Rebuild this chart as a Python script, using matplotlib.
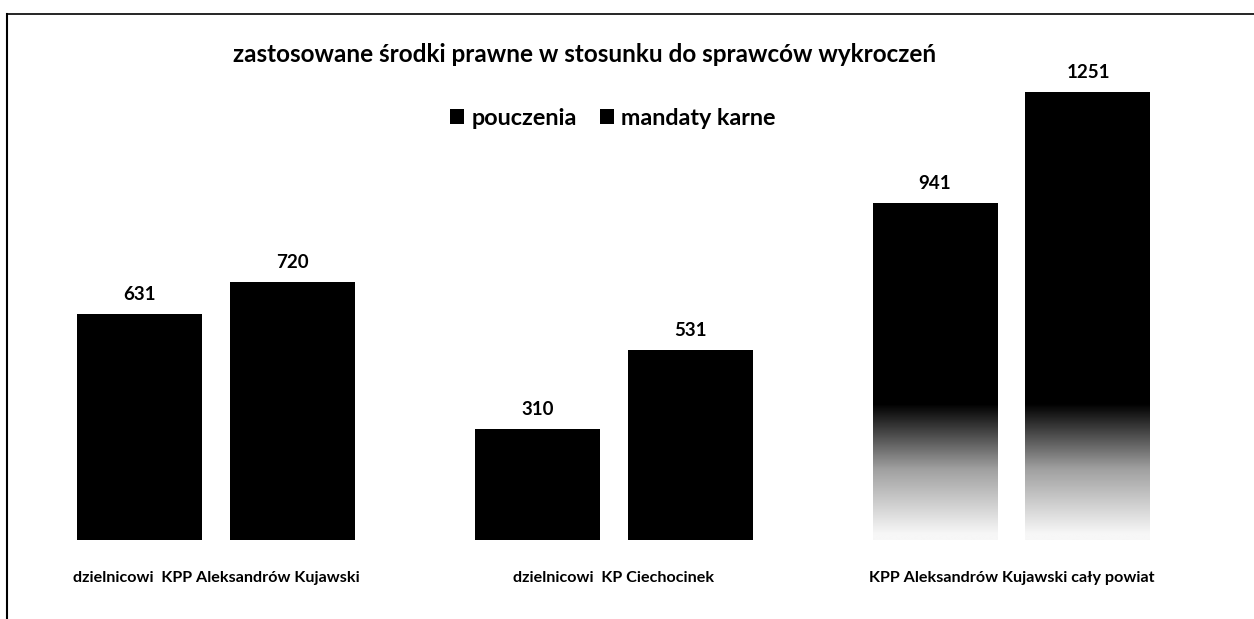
import matplotlib
matplotlib.use("Agg")
import matplotlib.pyplot as plt
import numpy as np
from matplotlib.colors import LinearSegmentedColormap

categories = ["dzielnicowi  KPP Aleksandrów Kujawski",
              "dzielnicowi  KP Ciechocinek",
              "KPP Aleksandrów Kujawski cały powiat"]
series_names = ["pouczenia", "mandaty karne"]
pouczenia = [631, 310, 941]
mandaty = [720, 531, 1251]
title = "zastosowane środki prawne w stosunku do sprawców wykroczeń"

FONT = ["Lato", "DejaVu Sans"]
plt.rcParams["font.family"] = FONT

W, H = 1254, 619
fig = plt.figure(figsize=(W / 100, H / 100), dpi=100)
fig.patch.set_facecolor("white")

# axes: baseline at y=540 px from top
base_px = 540
top_px = 40
ax = fig.add_axes([0, (H - base_px) / H, 1, (base_px - top_px) / H])
scale = 0.358  # px per unit
g0, g2 = 216, 1011.5
ppu = (g2 - g0) / 2

x = np.arange(len(categories))
bw = 125 / ppu
off = (125 + 28) / 2 / ppu

bars1 = ax.bar(x - off, pouczenia, width=bw, color="black", label=series_names[0])
bars2 = ax.bar(x + off, mandaty, width=bw, color="black", label=series_names[1])

# gradient fade at the bottom of the third group (scan of gradient fill)
cmap = LinearSegmentedColormap.from_list("fade", ["#f7f7f7", "#a0a0a0", "#000000"])
for b in (bars1[2], bars2[2]):
    x0, w, h = b.get_x(), b.get_width(), b.get_height()
    yy = np.linspace(0, h, 400)
    lo, hi = 15, 380
    v = np.clip((yy - lo) / (hi - lo), 0, 1)
    img = v[:, None] * np.ones((1, 10))
    im = ax.imshow(img, extent=(x0, x0 + w, 0, h), origin="lower", cmap=cmap,
                   vmin=0, vmax=1, aspect="auto", zorder=3, interpolation="bilinear")
    im.set_clip_path(b)
ax.set_xlim(-g0 / ppu, (W - g0) / ppu)
ax.set_ylim(0, (base_px - top_px) / scale)

for bars in (bars1, bars2):
    for b in bars:
        ax.text(b.get_x() + b.get_width() / 2, b.get_height() + 11 / scale,
                f"{int(b.get_height())}", ha="center", va="bottom",
                fontsize=13.5, fontweight="bold", family=FONT, zorder=5)

ax.set_xticks(x)
ax.set_xticklabels(categories, fontsize=11.6, fontweight="bold")
ax.tick_params(axis="x", length=0, pad=22)
ax.set_yticks([])
for s in ax.spines.values():
    s.set_visible(False)
ax.patch.set_alpha(0)

fig.text(585 / W, 1 - 55 / H, title, ha="center", va="center",
         fontsize=17.5, fontweight="bold", family=FONT)

leg = fig.legend(handles=[bars1, bars2], labels=series_names,
                 loc="center", bbox_to_anchor=(613 / W, 1 - 118 / H),
                 ncol=2, frameon=False, prop={"family": FONT, "weight": "bold", "size": 16.8},
                 handlelength=0.6, handleheight=0.6, handletextpad=0.3, columnspacing=1.0)

# scanned frame border
fig.add_artist(plt.Line2D([7 / W, 7 / W], [0, 1 - 14 / H], color="black", lw=1.5,
                          transform=fig.transFigure))
fig.add_artist(plt.Line2D([7 / W, 1], [1 - 14 / H, 1 - 14 / H], color="black", lw=1.2,
                          transform=fig.transFigure))

fig.savefig("out.png", dpi=100, facecolor="white")
